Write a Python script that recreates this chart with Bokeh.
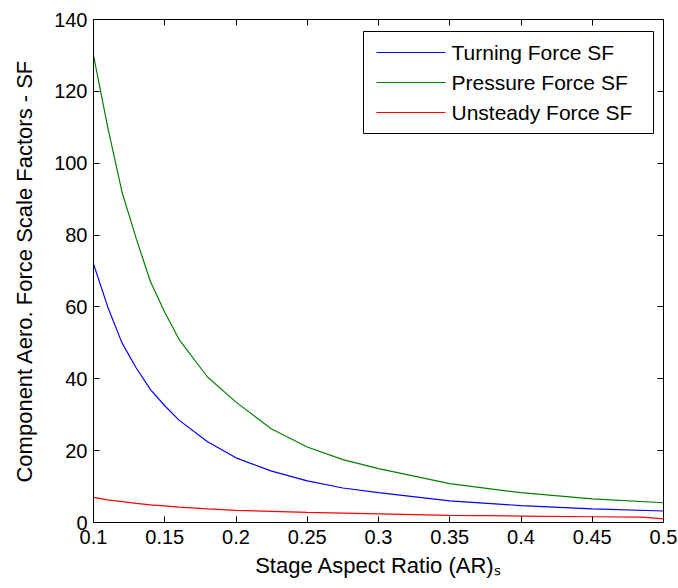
from bokeh.plotting import figure
from bokeh.models import LinearAxis, Range1d, FixedTicker, BoxAnnotation, CustomJSTickFormatter
from bokeh.core.properties import value
from bokeh.embed import file_html
from bokeh.resources import INLINE

# Data
ar = [0.1, 0.11, 0.12, 0.13, 0.14, 0.15, 0.16, 0.18, 0.2, 0.225, 0.25, 0.275, 0.3, 0.35, 0.4, 0.45, 0.5]
turning_sf = [72, 60, 50, 43, 37, 32.5, 28.5, 22.5, 18, 14.3, 11.6, 9.6, 8.3, 6.0, 4.7, 3.8, 3.2]
pressure_sf = [130, 110, 92, 79, 67, 58.5, 51, 40.5, 33.5, 26, 21, 17.5, 15, 10.8, 8.3, 6.6, 5.5]
ar_unsteady = [0.1, 0.11, 0.12, 0.13, 0.14, 0.15, 0.16, 0.18, 0.2, 0.225, 0.25, 0.275, 0.3, 0.35, 0.4, 0.45, 0.485, 0.5]
unsteady_sf = [7, 6.3, 5.8, 5.3, 4.9, 4.6, 4.3, 3.8, 3.4, 3.1, 2.8, 2.6, 2.4, 2.0, 1.8, 1.6, 1.5, 1.0]

x_ticks = [0.1, 0.15, 0.2, 0.25, 0.3, 0.35, 0.4, 0.45, 0.5]
y_ticks = [0, 20, 40, 60, 80, 100, 120, 140]
series_names = ["Turning Force SF", "Pressure Force SF", "Unsteady Force SF"]
series_colors = ["#0000ff", "#008000", "#ff0000"]
x_label = "Stage Aspect Ratio (AR)\u209b"
y_label = "Component Aero. Force Scale Factors - SF"

FONT = "Liberation Sans"
X0, X1, Y0, Y1 = 0.1, 0.5, 0, 140
FW, FH = 570, 503
ML, MT = 93, 19

p = figure(width=678, height=588, frame_width=FW, frame_height=FH,
           min_border_left=ML, min_border_right=15, min_border_top=MT, min_border_bottom=66,
           x_range=Range1d(X0, X1), y_range=Range1d(Y0, Y1),
           output_backend="svg", toolbar_location=None,
           x_axis_location=None, y_axis_location=None)
p.background_fill_color = "white"
p.border_fill_color = "white"
p.grid.visible = False
p.outline_line_color = "black"
p.outline_line_width = 1

fmt = CustomJSTickFormatter(code="return String(Math.round(tick*100)/100);")

def make_axis(kind, show_labels):
    ax = LinearAxis()
    ax.ticker = FixedTicker(ticks=x_ticks if kind == "x" else y_ticks)
    ax.formatter = fmt
    ax.major_tick_in = 6
    ax.major_tick_out = 0
    ax.minor_tick_in = 0
    ax.minor_tick_out = 0
    ax.axis_line_color = "black"
    ax.major_tick_line_color = "black"
    ax.major_label_text_font = FONT
    ax.major_label_text_font_size = "20px"
    ax.major_label_text_color = "black"
    ax.major_label_standoff = 7 if kind == "x" else 6
    ax.axis_label_text_font = FONT
    ax.axis_label_text_font_size = "22px"
    ax.axis_label_text_font_style = "normal"
    ax.axis_label_text_color = "black"
    if not show_labels:
        ax.major_label_text_alpha = 0
        ax.major_label_text_font_size = "1px"
        ax.major_label_standoff = 0
    return ax

bottom = make_axis("x", True)
bottom.axis_label = x_label
bottom.axis_label_standoff = 6
p.add_layout(bottom, "below")
left = make_axis("y", True)
left.axis_label = y_label
left.axis_label_standoff = 14
p.add_layout(left, "left")
p.add_layout(make_axis("x", False), "above")
p.add_layout(make_axis("y", False), "right")

p.line(ar, turning_sf, line_color=series_colors[0], line_width=1.2)
p.line(ar, pressure_sf, line_color=series_colors[1], line_width=1.2)
p.line(ar_unsteady, unsteady_sf, line_color=series_colors[2], line_width=1.2)

# Legend drawn by hand (pixel layout inside the frame converted to data units)
def dx(px):
    return X0 + (px - ML) * (X1 - X0) / FW

def dy(py):
    return Y0 + (MT + FH - py) * (Y1 - Y0) / FH

p.add_layout(BoxAnnotation(left=dx(363), right=dx(653), top=dy(31), bottom=dy(133),
                           fill_color="white", fill_alpha=1, line_color="black",
                           line_alpha=1, line_width=1, level="underlay"))
rows = [dy(52), dy(82), dy(112)]
p.segment(x0=[dx(376)] * 3, x1=[dx(445)] * 3, y0=rows, y1=rows,
          line_color=series_colors, line_width=1.2)
p.text(x=[dx(451)] * 3, y=rows, text=series_names, text_font=value(FONT),
       text_font_size=value("21px"), text_color="black", text_baseline="middle",
       text_align="left")

open("out.html", "w").write(file_html(p, INLINE))
